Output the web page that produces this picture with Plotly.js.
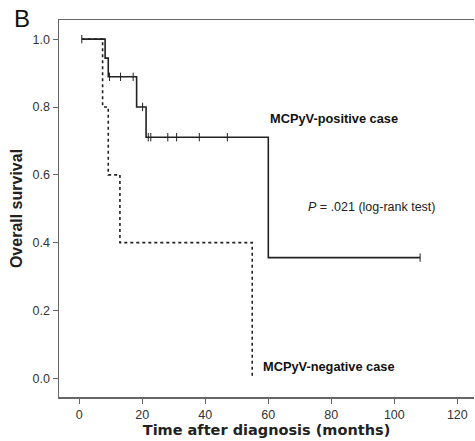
<!DOCTYPE html>
<html><head><meta charset="utf-8">
<script src="https://cdn.plot.ly/plotly-3.0.1.min.js"></script>
<style>html,body{margin:0;padding:0;background:#fff}#chart{width:475px;height:441px}</style>
</head><body><div id="chart"></div>
<script>
// Kaplan-Meier step data (months, survival)
const posTimes = [0.8, 8.2, 9.2, 18.2, 21.2, 60, 108.2];
const posSurv  = [1.0, 0.944, 0.889, 0.8, 0.711, 0.356, 0.356];
const posCensTimes = [0.8, 9.6, 13.1, 17.1, 20.1, 21.9, 22.7, 28.1, 30.9, 38.1, 47.0, 108.2];
const posCensSurv  = [1.0, 0.889, 0.889, 0.889, 0.8, 0.711, 0.711, 0.711, 0.711, 0.711, 0.711, 0.356];

const negTimes = [0.8, 7.4, 9.2, 12.9, 54.9];
const negSurv  = [1.0, 0.8, 0.6, 0.4, 0.0];

const xTicks = [0, 20, 40, 60, 80, 100, 120];
const yTicks = [0, 0.2, 0.4, 0.6, 0.8, 1.0];
const yTickLabels = ['0.0', '0.2', '0.4', '0.6', '0.8', '1.0'];

const traces = [
  {x: negTimes, y: negSurv, type: 'scatter', mode: 'lines', line: {shape: 'hv', color: '#222', width: 1.6, dash: 'dot'}, hoverinfo: 'skip'},
  {x: posTimes, y: posSurv, type: 'scatter', mode: 'lines', line: {shape: 'hv', color: '#222', width: 1.6}, hoverinfo: 'skip'},
  {x: posCensTimes, y: posCensSurv, type: 'scatter', mode: 'markers', marker: {symbol: 'line-ns', size: 6, line: {color: '#222', width: 1}}, hoverinfo: 'skip'}
];

const layout = {
  width: 475, height: 441,
  margin: {l: 59, r: 1, t: 19.5, b: 44},
  paper_bgcolor: '#fff', plot_bgcolor: '#fff',
  showlegend: false,
  font: {family: 'Arial, "Liberation Sans", sans-serif', color: '#222'},
  xaxis: {
    range: [-6.44, 125.3], tickvals: xTicks, ticktext: xTicks.map(String),
    showgrid: false, zeroline: false, showline: true, mirror: true,
    linecolor: '#666', linewidth: 1.5, ticks: 'outside', ticklen: 5, tickcolor: '#666',
    tickfont: {size: 12.5, color: '#333'},
    title: {text: '<b>Time after diagnosis (months)</b>', font: {family: '"DejaVu Sans", sans-serif', size: 14.5, color: '#222'}, standoff: 4}
  },
  yaxis: {
    range: [-0.055, 1.0565], tickvals: yTicks, ticktext: yTickLabels,
    showgrid: false, zeroline: false, showline: true,
    linecolor: '#666', linewidth: 1.5, ticks: 'outside', ticklen: 5, tickcolor: '#666',
    tickfont: {size: 12.5, color: '#333'},
    title: {text: '<b>Overall survival</b>', font: {size: 16, color: '#222'}, standoff: 6}
  },
  annotations: [
    {x: 59.8, y: 0.766, xref: 'x', yref: 'y', xanchor: 'left', yanchor: 'middle', showarrow: false,
     text: '<b>MCPyV-positive case</b>', font: {size: 12.8, color: '#111'}},
    {x: 72, y: 0.505, xref: 'x', yref: 'y', xanchor: 'left', yanchor: 'middle', showarrow: false,
     text: '<i>P</i> = .021 (log-rank test)', font: {size: 12.5, color: '#222'}},
    {x: 57.7, y: 0.036, xref: 'x', yref: 'y', xanchor: 'left', yanchor: 'middle', showarrow: false,
     text: '<b>MCPyV-negative case</b>', font: {size: 12.8, color: '#111'}},
    {x: -0.089, y: 1.004, xref: 'paper', yref: 'paper', xanchor: 'center', yanchor: 'middle', showarrow: false,
     text: 'B', font: {size: 24, color: '#111'}}
  ]
};

Plotly.newPlot('chart', traces, layout, {staticPlot: true, displayModeBar: false});
</script></body></html>
